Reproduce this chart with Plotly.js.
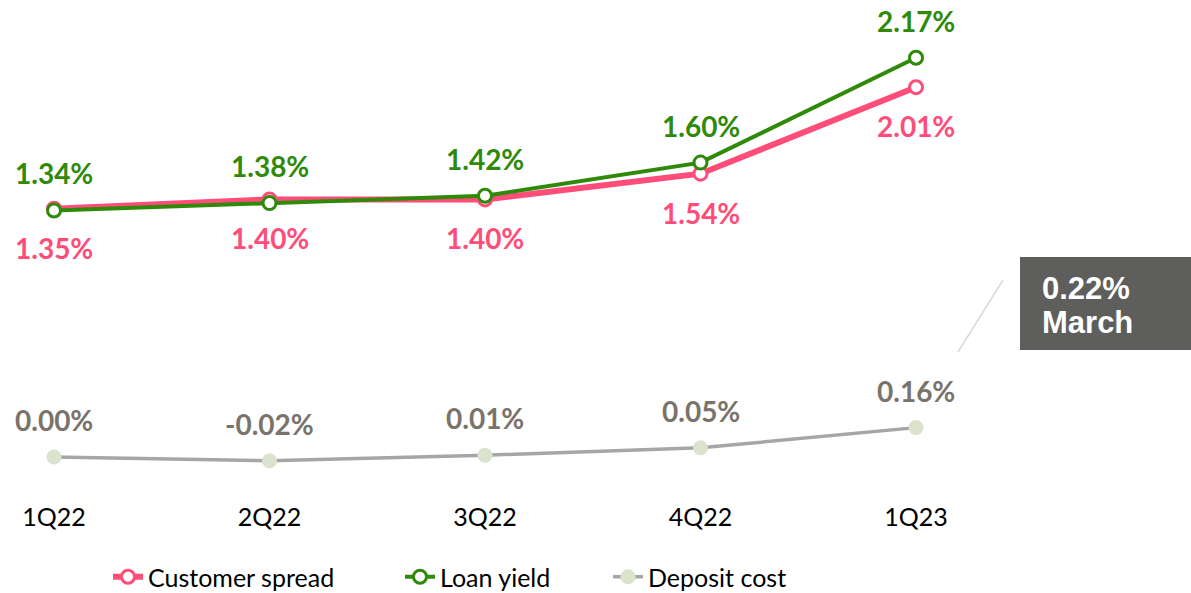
<!DOCTYPE html>
<html>
<head>
<meta charset="utf-8">
<script src="https://cdn.plot.ly/plotly-3.0.1.min.js"></script>
<style>html,body{margin:0;padding:0;background:#fff;}#chart{width:1191px;height:593px;}</style>
</head>
<body>
<div id="chart"></div>
<script>
const quarters = ["1Q22", "2Q22", "3Q22", "4Q22", "1Q23"];
const customerSpread = [1.35, 1.40, 1.40, 1.54, 2.01];
const loanYield = [1.34, 1.38, 1.42, 1.60, 2.17];
const depositCost = [0.00, -0.02, 0.01, 0.05, 0.16];
const marchDepositCost = 0.22;
const marchLabel = "March";

const PINK = "#FF4D79", GREEN = "#2F8A0A", GRAYLINE = "#A6A6A6", DEPMARK = "#DCE3CC", DEPTEXT = "#7A736B";
const FONT = "Lato, 'Open Sans', sans-serif";
const labelFont = (c) => ({family: FONT, size: 28, color: c, weight: 700});
const fmt = (v) => v.toFixed(2) + "%";

const traces = [
  {x: quarters, y: customerSpread, name: "Customer spread", type: "scatter", mode: "lines+markers", legend: "legend",
   line: {color: PINK, width: 6}, marker: {symbol: "circle", size: 13, color: "#fff", line: {color: PINK, width: 3}}},
  {x: quarters, y: loanYield, name: "Loan yield", type: "scatter", mode: "lines+markers", legend: "legend2",
   line: {color: GREEN, width: 4}, marker: {symbol: "circle", size: 13, color: "#fff", line: {color: GREEN, width: 3}}},
  {x: quarters, y: depositCost, name: "Deposit cost", type: "scatter", mode: "lines+markers", legend: "legend3",
   line: {color: GRAYLINE, width: 3.5}, marker: {symbol: "circle", size: 15, color: DEPMARK}}
];

const annotations = [];
quarters.forEach((q, i) => {
  annotations.push({x: q, y: loanYield[i], text: fmt(loanYield[i]), showarrow: false, yshift: 37, font: labelFont(GREEN)});
  annotations.push({x: q, y: customerSpread[i], text: fmt(customerSpread[i]), showarrow: false, yshift: -39, font: labelFont(PINK)});
  annotations.push({x: q, y: depositCost[i], text: fmt(depositCost[i]), showarrow: false, yshift: 37, font: labelFont(DEPTEXT)});
});
const boxFont = {family: "'Liberation Sans', Arial, sans-serif", size: 31, color: "#ffffff", weight: 700};
annotations.push({xref: "paper", yref: "paper", x: 1040/1191, y: (490-288)/490, xanchor: "left", yanchor: "middle",
  showarrow: false, text: fmt(marchDepositCost), font: boxFont});
annotations.push({xref: "paper", yref: "paper", x: 1040/1191, y: (490-322)/490, xanchor: "left", yanchor: "middle",
  showarrow: false, text: marchLabel, font: boxFont});

const legendBase = (x) => ({orientation: "h", x: x, xanchor: "left", xref: "paper", y: (593-554)/593, yref: "container", yanchor: "top",
  font: {family: FONT, size: 25, color: "#000"}, bgcolor: "rgba(0,0,0,0)"});

const layout = {
  width: 1191, height: 593,
  margin: {l: 0, r: 0, t: 0, b: 103, autoexpand: false},
  paper_bgcolor: "#fff", plot_bgcolor: "#fff",
  showlegend: true,
  legend: legendBase(108/1191),
  legend2: legendBase(400/1191),
  legend3: legendBase(608/1191),
  xaxis: {type: "category", range: [-0.2506, 5.276], showgrid: false, zeroline: false, showline: false, automargin: false,
    ticks: "outside", ticklen: 5, tickcolor: "rgba(0,0,0,0)",
    tickfont: {family: FONT, size: 25, color: "#000"}},
  yaxis: {range: [-0.179, 2.4837], visible: false, showgrid: false, zeroline: false, automargin: false},
  annotations: annotations,
  shapes: [
    {type: "rect", xref: "paper", yref: "paper", x0: 1020/1191, x1: 1, y0: (490-350)/490, y1: (490-257)/490,
     fillcolor: "#5E5E5C", line: {width: 0}, layer: "above"},
    {type: "line", xref: "paper", yref: "paper", x0: 958/1191, y0: (490-352)/490, x1: 1003/1191, y1: (490-280)/490,
     line: {color: "#D9D9D9", width: 1.5}}
  ]
};

Plotly.newPlot("chart", traces, layout, {displayModeBar: false, staticPlot: true});
</script>
</body>
</html>
